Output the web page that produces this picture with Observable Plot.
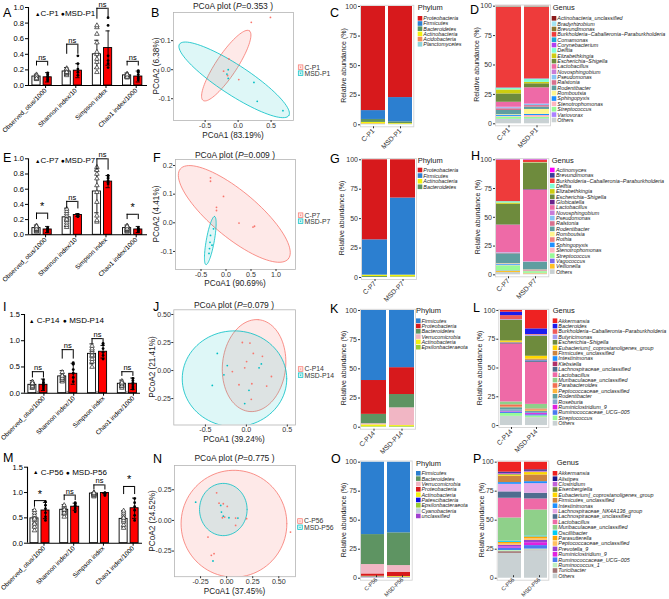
<!DOCTYPE html>
<html><head><meta charset="utf-8">
<script src="https://cdn.jsdelivr.net/npm/d3@7"></script>
<script src="https://cdn.jsdelivr.net/npm/@observablehq/plot@0.6"></script>
<style>
body{margin:0;background:#fff;}
#root{position:relative;width:669px;height:599px;overflow:hidden;background:#fff;font-family:'Liberation Sans',Arial,sans-serif;}
</style></head><body><div id="root"></div>
<script>
const FONT = "'Liberation Sans', Arial, Helvetica, sans-serif";
const root = document.getElementById("root");

// ---------------- alpha diversity ----------------
const metrics = ["Observed_otus/1000", "Shannon index/10", "Simpson index", "Chao1 index/1000"];

const p1CMean = [0.115, 0.18, 0.40, 0.13];
const p1CSd   = [0.03, 0.05, 0.18, 0.03];
const p1MMean = [0.105, 0.19, 0.48, 0.115];
const p1MSd   = [0.06, 0.09, 0.22, 0.07];
const p1CPts = [[0.08,0.09,0.10,0.11,0.12,0.13,0.10,0.14,0.12,0.09],[0.13,0.15,0.16,0.17,0.18,0.19,0.20,0.22,0.21,0.17],[0.17,0.23,0.30,0.34,0.40,0.43,0.55,0.66,0.745,0.77],[0.10,0.11,0.12,0.13,0.14,0.15,0.12,0.13,0.11,0.14]];
const p1MPts = [[0.06,0.08,0.10,0.12,0.14,0.16],[0.13,0.17,0.21,0.28,0.38],[0.23,0.28,0.32,0.38,0.77,0.87],[0.07,0.09,0.11,0.14,0.17,0.19]];
const p1Sig = ["ns","ns","ns","ns"];
const p1BrTop = [0.31, 0.53, 0.99, 0.31];
const p1BrLow = [0.25, 0.40, 0.85, 0.25];

const p7CMean = [0.088, 0.23, 0.57, 0.088];
const p7CSd   = [0.04, 0.12, 0.28, 0.04];
const p7MMean = [0.07, 0.26, 0.70, 0.07];
const p7MSd   = [0.04, 0.02, 0.08, 0.04];
const p7CPts = [[0.04,0.05,0.06,0.07,0.08,0.09,0.10,0.12,0.08,0.11],[0.10,0.13,0.16,0.19,0.22,0.25,0.28,0.31,0.34,0.20],[0.17,0.19,0.25,0.43,0.56,0.65,0.74,0.80,0.85,0.89],[0.04,0.05,0.06,0.07,0.08,0.09,0.10,0.12,0.08,0.11]];
const p7MPts = [[0.04,0.05,0.06,0.07,0.08,0.09],[0.24,0.25,0.26,0.25,0.27,0.24],[0.67,0.69,0.71,0.74,0.76,0.78],[0.04,0.05,0.06,0.07,0.08,0.09]];
const p7Sig = ["*","ns","ns","*"];
const p7BrTop = [0.285, 0.44, 1.0, 0.27];
const p7BrLow = [0.20, 0.34, 0.85, 0.20];

const p14CMean = [0.16, 0.32, 0.75, 0.18];
const p14CSd   = [0.08, 0.11, 0.19, 0.07];
const p14MMean = [0.16, 0.37, 0.79, 0.18];
const p14MSd   = [0.11, 0.20, 0.12, 0.11];
const p14Gray  = [0.035, 0.035, 0.035, 0.035];
const p14CPts = [[0.10,0.12,0.14,0.16,0.18,0.20,0.22,0.13,0.17,0.19],[0.22,0.25,0.28,0.30,0.32,0.35,0.40,0.26,0.29,0.33],[0.50,0.60,0.65,0.70,0.75,0.78,0.82,0.85,0.90,0.72],[0.10,0.13,0.15,0.17,0.19,0.21,0.23,0.14,0.18,0.20]];
const p14MPts = [[0.08,0.12,0.15,0.18,0.21,0.25],[0.22,0.30,0.38,0.45,0.55,0.58],[0.65,0.72,0.78,0.85,0.92,0.95],[0.08,0.12,0.16,0.20,0.24,0.28]];
const p14Sig = ["ns","ns","ns","ns"];
const p14BrTop = [0.41, 0.83, 1.04, 0.41];
const p14BrLow = [0.29, 0.65, 0.94, 0.32];

const p56CMean = [0.49, 0.66, 0.98, 0.48];
const p56CSd   = [0.17, 0.10, 0.02, 0.16];
const p56MMean = [0.645, 0.72, 0.99, 0.69];
const p56MSd   = [0.16, 0.07, 0.01, 0.20];
const p56CPts = [[0.25,0.32,0.40,0.45,0.50,0.55,0.60,0.65,0.48,0.38],[0.52,0.58,0.62,0.65,0.68,0.70,0.72,0.75,0.60,0.66],[0.92,0.94,0.96,0.97,0.98,0.99,1.00,0.95,0.97,0.99],[0.30,0.36,0.42,0.48,0.52,0.56,0.60,0.64,0.45,0.50]];
const p56MPts = [[0.45,0.52,0.60,0.68,0.75,0.82],[0.62,0.68,0.72,0.75,0.78,0.80],[0.94,0.96,0.98,0.99,1.00,0.99],[0.45,0.55,0.65,0.72,0.80,0.88]];
const p56Sig = ["*","ns","ns","*"];
const p56BrTop = [0.84, 0.95, 1.15, 1.12];
const p56BrLow = [0.71, 0.84, 1.05, 0.96];

// ---------------- PCoA ----------------
const pcoaP1C = [[0.20,0.163],[0.49,0.18],[-0.14,0.037],[0.01,-0.034],[-0.22,-0.005],[-0.16,-0.02]];
const pcoaP1M = [[-0.15,0.0],[-0.15,-0.03],[0.24,-0.044],[0.29,-0.109],[0.68,-0.141],[-0.17,-0.015]];
const ellP1C = [-0.18, 0.014, 0.35, 0.12, 0.133, -0.020];
const ellP1M = [-0.06, -0.035, 0.829, -0.123, -0.124, -0.043];

const pcoaP7C = [[-0.31,0.157],[-0.31,0.145],[-0.05,0.092],[-0.19,0.054],[-0.19,0.043],[0.26,-0.001],[0.54,-0.015],[0.57,-0.012]];
const pcoaP7M = [[-0.25,-0.021],[-0.31,-0.044],[-0.32,-0.068],[-0.33,-0.09],[-0.34,-0.107],[-0.28,-0.078]];
const ellP7C = [0.166, 0.031, 1.08, -0.157, -0.294, -0.062];
const ellP7M = [-0.314, -0.062, 0.086, 0.084, 0.079, -0.0024];

const pcoaP14C = [[-0.049,0.25],[0.044,0.245],[0.085,0.153],[0.003,0.08],[0.196,0.127],[-0.171,-0.009],[-0.02,0.024],[-0.09,-0.127],[0.067,-0.118],[0.248,-0.139],[0.306,-0.053],[0.06,-0.257]];
const pcoaP14M = [[-0.355,0.153],[-0.233,0.044],[-0.274,-0.038],[-0.416,-0.133],[0.183,0.059],[0.155,0.024],[0.032,-0.177],[-0.02,-0.295]];
const ellP14C = [0.094, 0.044, 0.05, 0.41, 0.385, -0.02];
const ellP14M = [-0.145, -0.074, 0.638, 0.0, 0.0, 0.428];

const pcoaP56C = [[-0.096,0.225],[-0.073,0.141],[-0.032,0.136],[0.006,0.114],[-0.041,0.022],[-0.019,0.027],[0.086,0.019],[0.191,0.014],[0.086,-0.041],[-0.179,-0.136],[-0.121,-0.271],[-0.147,-0.285],[0.612,-0.095]];
const pcoaP56M = [[-0.297,0.149],[-0.057,0.122],[-0.05,0.068],[-0.032,0.035],[0.022,0.022],[0.108,0.019],[-0.131,-0.331]];
const ellP56C = [0.07, -0.027, 0.507, 0, 0, 0.436];
const ellP56M = [-0.032, 0.089, 0.228, 0, 0, 0.213];

// ---------------- relative abundance ----------------
const phylaP1 = ["Proteobacteria","Firmicutes","Bacteroidetes","Actinobacteria","Acidobacteria","Planctomycetes"];
const phylaP1Col = ["#D7191C","#2C7FD0","#5E9462","#F2F20F","#F08C5A","#8ED3D9"];
const phylaP1_C = [88, 7.5, 2.5, 1.2, 0.5, 0.3];
const phylaP1_MSD = [77, 20.5, 1.5, 0.6, 0.2, 0.2];

const genusP1 = ["Actinobacteria_unclassified","Bradyrhizobium","Brevundimonas","Burkholderia−Caballeronia−Paraburkholderia","Comamonas","Corynebacterium","Delftia","Elizabethkingia","Escherichia−Shigella","Lactobacillus","Novosphingobium","Pseudomonas","Ralstonia","Rodentibacter","Romboutsia","Sphingopyxis","Stenotrophomonas","Streptococcus","Variovorax","Others"];
const genusP1Col = ["#8B1A1A","#A4E4F4","#8B7530","#EE3B3B","#1AA6D6","#B040F0","#7FFFD4","#CDCD10","#6E8B3D","#EE6AA7","#C87CD8","#87C4F5","#D8708F","#5F9EA0","#FFF68F","#1E90FF","#FFB6C1","#98FB98","#AB82FF","#C9D1D3"];
const genusP1_C = [0.3,0.3,0.4,68.5,0.3,0.2,1.2,3.4,7.1,4.2,0.5,0.8,1.5,3.5,0.5,1.0,0.5,2.0,0.3,3.5];
const genusP1_MSD = [0.3,0.3,0.4,60.8,0.2,0.2,2.6,1.2,3.4,13.6,0.5,1.0,1.3,2.0,4.2,1.0,1.5,1.5,0.5,3.5];

const phylaP7 = ["Proteobacteria","Firmicutes","Actinobacteria","Bacteroidetes"];
const phylaP7Col = ["#D7191C","#2C7FD0","#F2F20F","#5E9462"];
const phylaP7_C = [68, 30, 1.2, 0.8];
const phylaP7_MSD = [32.5, 65.5, 1.5, 0.5];

const genusP7 = ["Actinomyces","Brevundimonas","Burkholderia−Caballeronia−Paraburkholderia","Delftia","Elizabethkingia","Escherichia−Shigella","Globicatella","Lactobacillus","Novosphingobium","Pseudomonas","Ralstonia","Rodentibacter","Romboutsia","Rothia","Sphingopyxis","Stenotrophomonas","Streptococcus","Vagococcus","Veillonella","Others"];
const genusP7Col = ["#FF00FF","#3A3A9A","#EE3B3B","#7FFFD4","#CDCD10","#6E8B3D","#68228B","#EE6AA7","#C87CD8","#87C4F5","#D8708F","#5F9EA0","#FFF68F","#F08080","#1E90FF","#FFB6C1","#98FB98","#7B68EE","#FFC125","#C9D1D3"];
const genusP7_C = [0.2,0.2,36,1.2,1.1,18,0.2,23.8,0.3,0.3,0.4,8.5,0.3,0.3,0.8,0.5,4.5,0.4,1.0,2.0];
const genusP7_MSD = [0.3,0.2,2.0,0.2,0.3,23,0.5,62,0.2,0.2,0.3,6.5,0.2,0.8,0.2,0.3,1.5,0.2,0.4,0.7];

const phylaP14 = ["Firmicutes","Proteobacteria","Bacteroidetes","Verrucomicrobia","Actinobacteria","Epsilonbacteraeota"];
const phylaP14Col = ["#2C7FD0","#D7191C","#5E9462","#F1B6C4","#F2F20F","#9ACD32"];
const phylaP14_C = [60, 29, 8, 1.0, 1.5, 0.5];
const phylaP14_MSD = [49, 23, 11.4, 15.2, 0.8, 0.6];

const genusP14 = ["Akkermansia","Bacteroides","Burkholderia−Caballeronia−Paraburkholderia","Butyricimonas","Escherichia−Shigella","Eubacterium]_coprostanoligenes_group","Firmicutes_unclassified","Intestinimonas","Klebsiella","Lachnospiraceae_unclassified","Lactobacillus","Muribaculaceae_unclassified","Parabacteroides","Peptococcaceae_unclassified","Rodentibacter","Roseburia","Ruminiclostridium_9","Ruminococcaceae_UCG−005","Streptococcus","Others"];
const genusP14Col = ["#EE2222","#1C1CEE","#F05A5A","#A59CF0","#6E8B3D","#FFD700","#CD853F","#1E90FF","#B0306A","#4F6D8F","#EE6AA7","#8FD08A","#F27052","#FFB63A","#5F9EA0","#88A9CF","#E020E0","#4A7BF0","#98FB98","#C9D1D3"];
const genusP14_C = [1.5,3,3.5,0.5,18,1.2,0.5,0.3,0.5,0.5,50,2.5,2.0,0.5,2.0,1.5,0.5,1.0,2.5,8.0];
const genusP14_MSD = [16,4.9,0.5,1.0,17.4,2.5,1.0,0.5,0.3,1.0,36.5,4.0,1.0,1.0,1.0,1.0,1.0,1.0,1.5,6.9];

const phylaP56 = ["Firmicutes","Bacteroidetes","Verrucomicrobia","Proteobacteria","Actinobacteria","Patescibacteria","Epsilonbacteraeota","Cyanobacteria","unclassified"];
const phylaP56Col = ["#2C7FD0","#5E9462","#F1B6C4","#D7191C","#F2F20F","#1010E8","#9ACD32","#BFD0DC","#A040D0"];
const phylaP56_C = [62.4, 25.8, 8.1, 2.0, 0.5, 0.4, 0.2, 0.3, 0.3];
const phylaP56_MSD = [60.9, 28.2, 5.7, 3.8, 0.6, 0.3, 0.2, 0.1, 0.2];

const genusP56 = ["Akkermansia","Alistipes","Clostridium","Eisenbergiella","Eubacterium]_coprostanoligenes_group","Firmicutes_unclassified","Intestinimonas","Lachnospiraceae_NK4A136_group","Lachnospiraceae_unclassified","Lactobacillus","Muribaculaceae_unclassified","Oscillibacter","Parasutterella","Peptococcaceae_unclassified","Prevotella_9","Ruminiclostridium_9","Ruminococcaceae_UCG−005","Ruminococcus_1","Turicibacter","Others"];
const genusP56Col = ["#EE2222","#1A1A8C","#C060D8","#6E8B3D","#FFD700","#CD853F","#1E90FF","#E6A8E6","#4F6D8F","#EE6AA7","#8FD08A","#00CDF5","#FFA500","#FFC060","#9A40D0","#E020E0","#4A7BF0","#C1F0C1","#A07474","#C9D1D3"];
const genusP56_C = [8.6,1,1,0.5,1,5.5,1.5,6.5,5.5,17,20,1,1,1.5,1.5,1,2,1,1.5,21.4];
const genusP56_MSD = [6.6,1.2,0.8,0.4,2.0,5.8,1.7,8.3,4.9,9.5,22.4,0.8,1.5,1.5,2.0,2.5,3.0,0.8,0.5,23.8];

// ---------------- helpers ----------------
function place(node, left, top) {
  node.style.position = "absolute";
  node.style.left = left + "px";
  node.style.top = top + "px";
  node.style.overflow = "visible";
  root.appendChild(node);
}
const baseStyle = {fontFamily: FONT, fontSize: "7.5px", background: "transparent", overflow: "visible", color: "black"};
const hyphenFmt = f => { const g = d3.format(f); return d => g(d).replace("−", "-"); };

function alphaPanel(o) {
  const off = {C: -0.185, M: 0.185}, hw = 0.135;
  const bars = [];
  metrics.forEach((m, i) => {
    bars.push({i, g: "C", mean: o.cMean[i], sd: o.cSd[i]});
    bars.push({i, g: "M", mean: o.mMean[i], sd: o.mSd[i]});
  });
  const ptsC = [], ptsM = [];
  o.cPts.forEach((arr, i) => arr.forEach(v => ptsC.push({i, v})));
  o.mPts.forEach((arr, i) => arr.forEach(v => ptsM.push({i, v})));
  const sig = o.sig.map((s, i) => ({i, label: s, top: o.brTop[i], low: o.brLow[i]}));
  const xc = d => d.i + off[d.g];
  const marks = [
    Plot.rectY(bars.filter(d => d.g === "C"), {x1: d => xc(d) - hw, x2: d => xc(d) + hw, y1: 0, y2: "mean", fill: "white", stroke: "black", strokeWidth: 0.9}),
    Plot.rectY(bars.filter(d => d.g === "M"), {x1: d => xc(d) - hw, x2: d => xc(d) + hw, y1: 0, y2: "mean", fill: "#FF0000", stroke: "black", strokeWidth: 0.9})
  ];
  if (o.gray) marks.push(Plot.rectY(o.gray.map((v, i) => ({i, v})), {x1: d => d.i - 0.045, x2: d => d.i + 0.025, y1: 0, y2: "v", fill: "#9a9a9a"}));
  marks.push(
    Plot.ruleX(bars, {x: xc, y1: d => Math.max(0, d.mean - d.sd), y2: d => d.mean + d.sd, stroke: "black", strokeWidth: 0.9}),
    Plot.ruleY(bars, {y: d => d.mean + d.sd, x1: d => xc(d) - 0.07, x2: d => xc(d) + 0.07, stroke: "black", strokeWidth: 0.9}),
    Plot.ruleY(bars.filter(d => d.mean - d.sd > 0), {y: d => d.mean - d.sd, x1: d => xc(d) - 0.07, x2: d => xc(d) + 0.07, stroke: "black", strokeWidth: 0.9}),
    Plot.dot(ptsC, {x: d => d.i + off.C, y: "v", symbol: "triangle", r: 1.7, fill: "white", stroke: "#222", strokeWidth: 0.7}),
    Plot.dot(ptsM, {x: d => d.i + off.M, y: "v", r: 1.4, fill: "black", stroke: null}),
    Plot.ruleY(sig, {y: "top", x1: d => d.i + off.C, x2: d => d.i + off.M, stroke: "black", strokeWidth: 1}),
    Plot.ruleX(sig, {x: d => d.i + off.C, y1: "low", y2: "top", stroke: "black", strokeWidth: 1}),
    Plot.ruleX(sig, {x: d => d.i + off.M, y1: "low", y2: "top", stroke: "black", strokeWidth: 1}),
    Plot.text(sig.filter(d => d.label === "ns"), {x: "i", y: "top", text: "label", lineAnchor: "bottom", dy: -1.5, fontSize: 7.5}),
    Plot.text(sig.filter(d => d.label !== "ns"), {x: "i", y: "top", text: "label", lineAnchor: "middle", dy: -6.5, fontSize: 11}),
    Plot.ruleY([0], {stroke: "black", strokeWidth: 1.1}),
    Plot.ruleX([o.xDom[0]], {y1: 0, y2: o.yMax, stroke: "black", strokeWidth: 1.1}),
    Plot.axisY({ticks: o.yTicks, tickFormat: d3.format(".1f"), tickSize: 3, tickPadding: 1.5, fontSize: 7.5, label: null}),
    Plot.axisX({ticks: [0, 1, 2, 3], tickFormat: i => metrics[i], tickRotate: -45, tickSize: 3, tickPadding: 1, fontSize: 6.4, dx: o.labDx, label: null})
  );
  const svg = Plot.plot({
    width: o.w, height: o.h, marginLeft: o.mL, marginTop: o.mT, marginBottom: o.mB, marginRight: o.mR,
    x: {domain: o.xDom, axis: null}, y: {domain: [0, o.yMax], axis: null},
    style: baseStyle, marks
  });
  place(svg, o.left, o.top);
}

function ellipsePts(e) {
  const out = [];
  for (let k = 0; k <= 90; k++) {
    const t = 2 * Math.PI * k / 90;
    out.push({x: e[0] + e[2] * Math.cos(t) + e[4] * Math.sin(t), y: e[1] + e[3] * Math.cos(t) + e[5] * Math.sin(t)});
  }
  return out;
}

function pcoaPanel(o) {
  const svg = Plot.plot({
    width: o.w, height: o.h, marginLeft: o.mL, marginTop: o.mT, marginBottom: o.mB, marginRight: o.mR,
    x: {domain: o.xDom, axis: null}, y: {domain: o.yDom, axis: null},
    style: baseStyle,
    marks: [
      Plot.line(ellipsePts(o.ellC), {x: "x", y: "y", fill: "#F8766D", fillOpacity: 0.16, stroke: "#F8766D", strokeWidth: 0.8, clip: true}),
      Plot.line(ellipsePts(o.ellM), {x: "x", y: "y", fill: "#00BFC4", fillOpacity: 0.13, stroke: "#00BFC4", strokeWidth: 0.8, clip: true}),
      Plot.dot(o.ptsC, {x: d => d[0], y: d => d[1], r: 0.9, fill: "#F8766D", stroke: null}),
      Plot.dot(o.ptsM, {x: d => d[0], y: d => d[1], r: 0.9, fill: "#00BFC4", stroke: null}),
      Plot.frame({stroke: "#b5b5b5", strokeWidth: 0.8}),
      Plot.axisX({ticks: o.xTicks, tickFormat: hyphenFmt(o.xFmt), tickSize: 2, tickPadding: 0.3, fontSize: 7.1, color: "#333", label: null}),
      Plot.axisY({ticks: o.yTicks, tickFormat: hyphenFmt(o.yFmt), tickSize: 2, tickPadding: 0.8, fontSize: 7.1, color: "#333", label: null})
    ]
  });
  place(svg, o.left, o.top);
}

function stackPanel(o) {
  const data = [];
  o.samples.forEach((s, si) => {
    for (let k = o.names.length - 1; k >= 0; k--) data.push({s, name: o.names[k], v: o.values[si][k]});
  });
  const svg = Plot.plot({
    width: o.w, height: o.h, marginLeft: o.mL, marginTop: o.mT, marginBottom: o.mB, marginRight: o.mR,
    x: {domain: o.samples, paddingInner: 0.12, paddingOuter: 0.04, axis: null},
    y: {domain: [-1.7, 101], axis: null},
    color: {domain: o.names, range: o.colors},
    style: baseStyle,
    marks: [
      Plot.barY(data, {x: "s", y: "v", fill: "name"}),
      Plot.frame({stroke: "#d4d4d4", strokeWidth: 0.9}),
      Plot.axisY({ticks: [0, 25, 50, 75, 100], tickSize: 2, tickPadding: 1.5, fontSize: 7, color: "#333", label: null}),
      Plot.axisX({tickRotate: -45, tickSize: 2, tickPadding: 1, fontSize: o.labSize || 6.8, dx: o.labDx || 0, dy: o.labDy || 0, color: "#333", label: null})
    ]
  });
  place(svg, o.left, o.top);
}

// ---------------- build panels ----------------
alphaPanel({left: 0, top: 0, w: 160, h: 145, mL: 28, mT: 7, mB: 60, mR: 13, xDom: [-0.45, 3.49], yMax: 1, yTicks: [0, 0.2, 0.4, 0.6, 0.8, 1.0], labDx: 3.5,
  cMean: p1CMean, cSd: p1CSd, mMean: p1MMean, mSd: p1MSd, cPts: p1CPts, mPts: p1MPts, sig: p1Sig, brTop: p1BrTop, brLow: p1BrLow});
alphaPanel({left: 0, top: 145, w: 160, h: 145, mL: 28, mT: 13.3, mB: 55.7, mR: 13, xDom: [-0.45, 3.49], yMax: 1, yTicks: [0, 0.2, 0.4, 0.6, 0.8, 1.0], labDx: 3.5,
  cMean: p7CMean, cSd: p7CSd, mMean: p7MMean, mSd: p7MSd, cPts: p7CPts, mPts: p7MPts, sig: p7Sig, brTop: p7BrTop, brLow: p7BrLow});
alphaPanel({left: 0, top: 290, w: 160, h: 150, mL: 24, mT: 24, mB: 47.3, mR: 20, xDom: [-0.45, 3.44], yMax: 1.5, yTicks: [0, 0.5, 1.0, 1.5], labDx: 6,
  cMean: p14CMean, cSd: p14CSd, mMean: p14MMean, mSd: p14MSd, cPts: p14CPts, mPts: p14MPts, sig: p14Sig, brTop: p14BrTop, brLow: p14BrLow, gray: p14Gray});
alphaPanel({left: 0, top: 440, w: 160, h: 159, mL: 27, mT: 26.7, mB: 56.3, mR: 18, xDom: [-0.42, 3.45], yMax: 1.5, yTicks: [0, 0.5, 1.0, 1.5], labDx: 4,
  cMean: p56CMean, cSd: p56CSd, mMean: p56MMean, mSd: p56MSd, cPts: p56CPts, mPts: p56MPts, sig: p56Sig, brTop: p56BrTop, brLow: p56BrLow});

pcoaPanel({left: 140, top: 0, w: 190, h: 145, mL: 33, mR: 37, mT: 12, mB: 25, xDom: [-0.98, 0.84], yDom: [-0.175, 0.197],
  xTicks: [-0.5, 0, 0.5], yTicks: [-0.1, 0, 0.1], xFmt: ".1f", yFmt: ".1f", ptsC: pcoaP1C, ptsM: pcoaP1M, ellC: ellP1C, ellM: ellP1M});
pcoaPanel({left: 140, top: 145, w: 190, h: 145, mL: 35, mR: 35, mT: 14, mB: 21, xDom: [-1.01, 1.39], yDom: [-0.163, 0.221],
  xTicks: [-0.5, 0, 0.5, 1.0], yTicks: [-0.1, 0, 0.1, 0.2], xFmt: ".1f", yFmt: ".1f", ptsC: pcoaP7C, ptsM: pcoaP7M, ellC: ellP7C, ellM: ellP7M});
pcoaPanel({left: 140, top: 290, w: 190, h: 150, mL: 33.3, mR: 35, mT: 19.3, mB: 15.5, xDom: [-0.886, 0.60], yDom: [-0.486, 0.542],
  xTicks: [-0.5, 0, 0.5], yTicks: [-0.25, 0, 0.25, 0.5], xFmt: ".1f", yFmt: ".2f", ptsC: pcoaP14C, ptsM: pcoaP14M, ellC: ellP14C, ellM: ellP14M});
pcoaPanel({left: 140, top: 440, w: 190, h: 159, mL: 34, mR: 35, mT: 25, mB: 22.8, xDom: [-0.50, 0.66], yDom: [-0.459, 0.448],
  xTicks: [-0.25, 0, 0.25, 0.5], yTicks: [-0.25, 0, 0.25], xFmt: ".2f", yFmt: ".2f", ptsC: pcoaP56C, ptsM: pcoaP56M, ellC: ellP56C, ellM: ellP56M});

stackPanel({left: 335, top: 0, w: 85, h: 145, mL: 25, mR: 6.7, mT: 4.8, mB: 18.7, samples: ["C-P1", "MSD-P1"], names: phylaP1, colors: phylaP1Col, values: [phylaP1_C, phylaP1_MSD]});
stackPanel({left: 470, top: 0, w: 85, h: 145, mL: 25, mR: 5, mT: 4.5, mB: 19.7, samples: ["C-P1", "MSD-P1"], names: genusP1, colors: genusP1Col, values: [genusP1_C, genusP1_MSD]});
stackPanel({left: 335, top: 145, w: 85, h: 145, mL: 26, mR: 4, mT: 13.1, mB: 11, samples: ["C-P7", "MSD-P7"], names: phylaP7, colors: phylaP7Col, values: [phylaP7_C, phylaP7_MSD]});
stackPanel({left: 470, top: 145, w: 85, h: 145, mL: 25, mR: 6.7, mT: 13.1, mB: 13.7, samples: ["C-P7", "MSD-P7"], names: genusP7, colors: genusP7Col, values: [genusP7_C, genusP7_MSD]});
stackPanel({left: 335, top: 290, w: 85, h: 150, mL: 25, mR: 5, mT: 18.8, mB: 11.3, samples: ["C-P14", "MSD-P14"], names: phylaP14, colors: phylaP14Col, values: [phylaP14_C, phylaP14_MSD]});
stackPanel({left: 472, top: 290, w: 85, h: 150, mL: 26.3, mR: 8.7, mT: 18.8, mB: 13, samples: ["C-P14", "MSD-P14"], names: genusP14, colors: genusP14Col, values: [genusP14_C, genusP14_MSD]});
stackPanel({left: 335, top: 440, w: 85, h: 159, mL: 25, mR: 8.3, mT: 20.5, mB: 19.3, samples: ["C-P56", "MSD-P56"], names: phylaP56, colors: phylaP56Col, values: [phylaP56_C, phylaP56_MSD], labSize: 5.6, labDx: 3.5, labDy: -4.5});
stackPanel({left: 472, top: 440, w: 85, h: 159, mL: 24.7, mR: 8.7, mT: 20.5, mB: 19.3, samples: ["C-P56", "MSD-P56"], names: genusP56, colors: genusP56Col, values: [genusP56_C, genusP56_MSD], labSize: 5.6, labDx: 3.5, labDy: -4.5});

// ---------------- overlay texts ----------------
const ov = d3.select(root).append("svg").attr("width", 669).attr("height", 599)
  .style("position", "absolute").style("left", "0px").style("top", "0px").style("overflow", "visible")
  .style("font-family", FONT);

function txt(x, y, s, size, opts = {}) {
  const t = ov.append("text").attr("x", x).attr("y", y).attr("font-size", size).attr("fill", opts.fill || "black").text(s);
  if (opts.anchor) t.attr("text-anchor", opts.anchor);
  if (opts.italic) t.attr("font-style", "italic");
  if (opts.rotate) t.attr("transform", `rotate(-90 ${x} ${y})`).attr("dominant-baseline", "central");
  return t;
}

const panelLetters = [["A",3,16.7],["B",151,16.7],["C",330,17],["D",470,13.5],["E",3,162],["F",153,162],["G",330,163],["H",471,160],["I",3,311],["J",153,311],["K",330,313],["L",473,312],["M",3,462],["N",153,463],["O",331,463],["P",473,463]];
panelLetters.forEach(([s, x, y]) => txt(x, y, s, 12.5));

// alpha legends
function alphaLegend(x1, x2, y, cLab, mLab) {
  const a = ov.append("text").attr("x", x1).attr("y", y).attr("font-size", 8);
  a.append("tspan").attr("font-size", 5.5).attr("dy", -0.5).text("▲");
  a.append("tspan").attr("dy", 0.5).text(cLab);
  const b = ov.append("text").attr("x", x2).attr("y", y).attr("font-size", 8);
  b.append("tspan").attr("font-size", 6.5).text("●");
  b.append("tspan").text(mLab);
}
alphaLegend(35, 61, 16, "C-P1", "MSD-P1");
alphaLegend(35, 61, 163, "C-P7", "MSD-P7");
alphaLegend(29, 63, 323, " C-P14", " MSD-P14");
alphaLegend(33, 66, 474.5, " C-P56", " MSD-P56");

// PCoA titles, axis titles, legends
function pcoaText(cx, tY, pval, xY, xLab, yX, yC, yLab, legX, legY1, legY2, cLab, mLab) {
  const t = ov.append("text").attr("x", cx).attr("y", tY).attr("font-size", 8.5).attr("text-anchor", "middle").attr("fill", "#222");
  t.append("tspan").text("PCoA plot (");
  t.append("tspan").attr("font-style", "italic").text("P");
  t.append("tspan").text("=" + pval + " )");
  txt(cx, xY, xLab, 8.2, {anchor: "middle", fill: "#222"});
  txt(yX, yC, yLab, 8.2, {anchor: "middle", fill: "#222", rotate: true});
  [[legY1, "#F8766D", cLab], [legY2, "#00BFC4", mLab]].forEach(([y, c, lab]) => {
    ov.append("rect").attr("x", legX).attr("y", y - 2.3).attr("width", 4.6).attr("height", 4.6)
      .attr("fill", c).attr("fill-opacity", 0.2).attr("stroke", c).attr("stroke-width", 0.7);
    ov.append("circle").attr("cx", legX + 2.3).attr("cy", y).attr("r", 0.6).attr("fill", c);
    txt(legX + 6.3, y + 2.4, lab, 6.8, {fill: "#333"});
  });
}
pcoaText(233, 9, "0.353", 138, "PCoA1 (83.19%)", 156, 66, "PCoA2 (6.38%)", 298.3, 67.2, 73.2, "C-P1", "MSD-P1");
pcoaText(235, 157.5, "0.009", 286.3, "PCoA1 (90.69%)", 156, 214, "PCoA2 (4.41%)", 298.3, 215.2, 221.2, "C-P7", "MSD-P7");
pcoaText(234, 308, "0.079", 441.8, "PCoA1 (39.24%)", 152.5, 367, "PCoA2 (21.41%)", 298.3, 369, 375.2, "C-P14", "MSD-P14");
pcoaText(234.5, 461, "0.775", 594, "PCoA1 (37.45%)", 152.5, 521, "PCoA2 (24.52%)", 297.7, 521, 527.3, "C-P56", "MSD-P56");

// stacked-bar y titles
[[343.3, 65.5], [476.7, 64.5], [341.7, 218], [477.3, 217], [343.3, 368], [479.3, 368], [343.3, 520], [481.7, 520]]
  .forEach(([x, y]) => txt(x, y, "Relative abundance (%)", 7, {anchor: "middle", fill: "#222", rotate: true}));

function legendBlock(title, tx, ty, names, colors, sqX, textX, y0, step) {
  txt(tx, ty, title, 7.5, {fill: "#222"});
  names.forEach((n, k) => {
    const y = y0 + k * step;
    ov.append("rect").attr("x", sqX).attr("y", y - 2.3).attr("width", 4.6).attr("height", 4.6).attr("fill", colors[k]);
    txt(textX, y + 1.9, n, 5.4, {italic: true, fill: "#222"});
  });
}
legendBlock("Phylum", 417.7, 9.5, phylaP1, phylaP1Col, 417.7, 423.3, 18.3, 5.2);
legendBlock("Genus", 552.7, 9.5, genusP1, genusP1Col, 551.7, 557.3, 18.3, 5.35);
legendBlock("Phylum", 417.7, 162.5, phylaP7, phylaP7Col, 417.7, 423.3, 170, 5.6);
legendBlock("Genus", 551.7, 162.5, genusP7, genusP7Col, 550, 556, 170, 5.35);
legendBlock("Phylum", 416, 313, phylaP14, phylaP14Col, 416, 421.5, 320.7, 5.3);
legendBlock("Genus", 552.7, 313, genusP14, genusP14Col, 552.7, 558.3, 320.7, 5.4);
legendBlock("Phylum", 416, 466, phylaP56, phylaP56Col, 416, 421.5, 473.3, 5.33);
legendBlock("Genus", 556.7, 465, genusP56, genusP56Col, 552.7, 558.3, 473.3, 5.4);
</script></body></html>
